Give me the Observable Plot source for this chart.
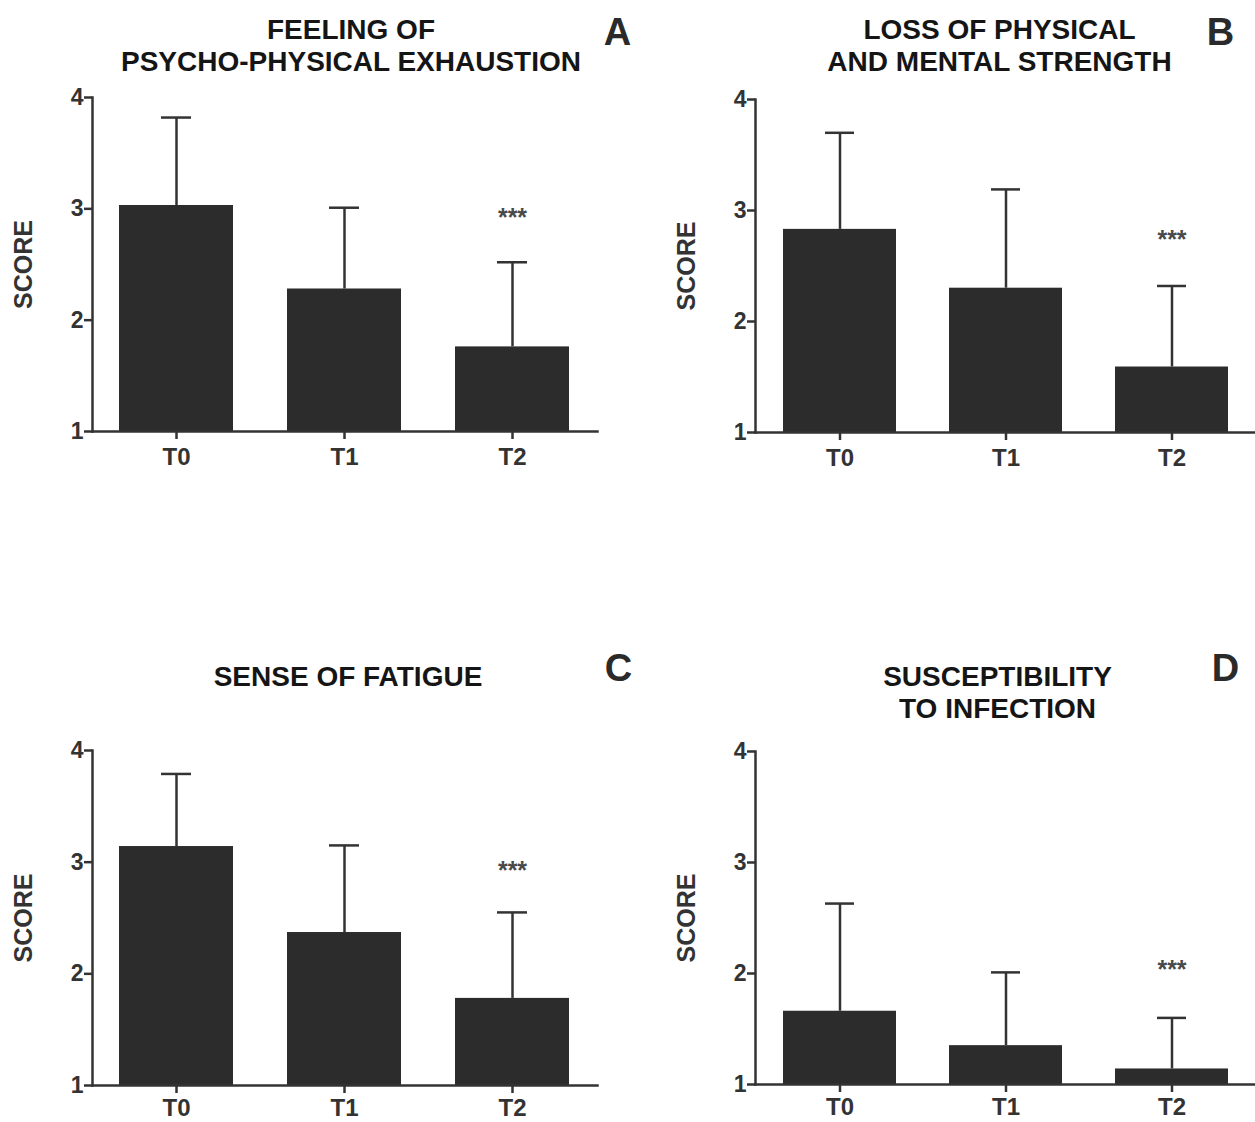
<!DOCTYPE html>
<html><head><meta charset="utf-8">
<script src="https://cdn.jsdelivr.net/npm/d3@7"></script>
<script src="https://cdn.jsdelivr.net/npm/@observablehq/plot@0.6"></script>
<style>
body{margin:0;background:#fff;}
#wrap{position:relative;width:1255px;height:1122px;overflow:hidden;background:#fff;}
.panel{position:absolute;}
</style></head><body><div id="wrap"></div>
<script>
const times = ["T0", "T1", "T2"];
const yTicks = [1, 2, 3, 4];
const titles = ["FEELING OF\nPSYCHO-PHYSICAL EXHAUSTION", "LOSS OF PHYSICAL\nAND MENTAL STRENGTH", "SENSE OF FATIGUE", "SUSCEPTIBILITY\nTO INFECTION"];
const letters = ["A", "B", "C", "D"];
const yLabel = "SCORE";
const starText = "***";
const meanA = [3.03, 2.28, 1.76];
const upperA = [3.82, 3.01, 2.52];
const meanB = [2.83, 2.30, 1.59];
const upperB = [3.70, 3.19, 2.32];
const meanC = [3.14, 2.37, 1.78];
const upperC = [3.79, 3.15, 2.55];
const meanD = [1.66, 1.35, 1.14];
const upperD = [2.63, 2.01, 1.60];
const starY = [2.94, 2.75, 2.94, 2.05];

const means = [meanA, meanB, meanC, meanD];
const uppers = [upperA, upperB, upperC, upperD];

const layout = [
  {left: 0, top: 0, width: 640, height: 480, mt: 97, mb: 49, ml: 92, mr: 43, titleDx: 6, titleDy: -27, letterDx: 20, letterDy: -53, xPad: 8},
  {left: 640, top: 0, width: 615, height: 480, mt: 99, mb: 48, ml: 115, mr: 0, titleDx: -6, titleDy: -29, letterDx: -35, letterDy: -55, xPad: 8},
  {left: 0, top: 600, width: 640, height: 522, mt: 150, mb: 37, ml: 92, mr: 43, titleDx: 3, titleDy: -65, letterDx: 21, letterDy: -70, xPad: 5},
  {left: 640, top: 600, width: 615, height: 522, mt: 151, mb: 38, ml: 115, mr: 0, titleDx: -8, titleDy: -34, letterDx: -30, letterDy: -71, xPad: 5}
];

const font = "'Liberation Sans', Arial, Helvetica, sans-serif";
const ink = "#333";

function panel(i) {
  const L = layout[i];
  const data = times.map((t, j) => ({t, mean: means[i][j], upper: uppers[i][j]}));
  return Plot.plot({
    width: L.width, height: L.height,
    marginTop: L.mt, marginBottom: L.mb, marginLeft: L.ml, marginRight: L.mr,
    style: {fontFamily: font, background: "transparent", overflow: "visible"},
    x: {domain: times, paddingInner: 0.32, paddingOuter: 0.16, axis: null},
    y: {domain: [1, 4], axis: null},
    marks: [
      Plot.ruleX(data, {x: "t", y1: "mean", y2: "upper", stroke: ink, strokeWidth: 2.5}),
      Plot.tickY(data, {x: "t", y: "upper", stroke: ink, strokeWidth: 2.5, inset: 42}),
      Plot.barY(data, {x: "t", y1: 1, y2: "mean", fill: "#2d2c2d"}),
      Plot.frame({anchor: "left", stroke: ink, strokeWidth: 2.5}),
      Plot.frame({anchor: "bottom", stroke: ink, strokeWidth: 2.5}),
      Plot.axisY({ticks: yTicks, tickFormat: d => d, tickSize: 8, tickPadding: 1, fontSize: 23, fontWeight: "bold", color: ink, strokeWidth: 2.5, label: null}),
      Plot.axisX({tickSize: 8, tickPadding: L.xPad, fontSize: 24, fontWeight: "bold", color: ink, strokeWidth: 2.5, label: null}),
      Plot.text([yLabel], {frameAnchor: "left", rotate: -90, dx: -69, textAnchor: "middle", fontSize: 25, fontWeight: "bold", fill: ink}),
      Plot.text([starText], {x: () => times[2], y: () => starY[i], fontSize: 25, fontWeight: "bold", fill: "#4a4a4a", lineAnchor: "middle", dy: 2}),
      Plot.text([titles[i]], {frameAnchor: "top", dx: L.titleDx, dy: L.titleDy, lineAnchor: "bottom", lineHeight: 1.143, fontSize: 28, fontWeight: "bold", fill: "#151515"}),
      Plot.text([letters[i]], {frameAnchor: "top-right", dx: L.letterDx, dy: L.letterDy, lineAnchor: "bottom", textAnchor: "middle", fontSize: 38, fontWeight: "bold", fill: "#2a2a2a"})
    ]
  });
}

const wrap = document.getElementById("wrap");
for (let i = 0; i < 4; i++) {
  const L = layout[i];
  const div = document.createElement("div");
  div.className = "panel";
  div.style.left = L.left + "px";
  div.style.top = L.top + "px";
  div.appendChild(panel(i));
  wrap.appendChild(div);
}
</script></body></html>
